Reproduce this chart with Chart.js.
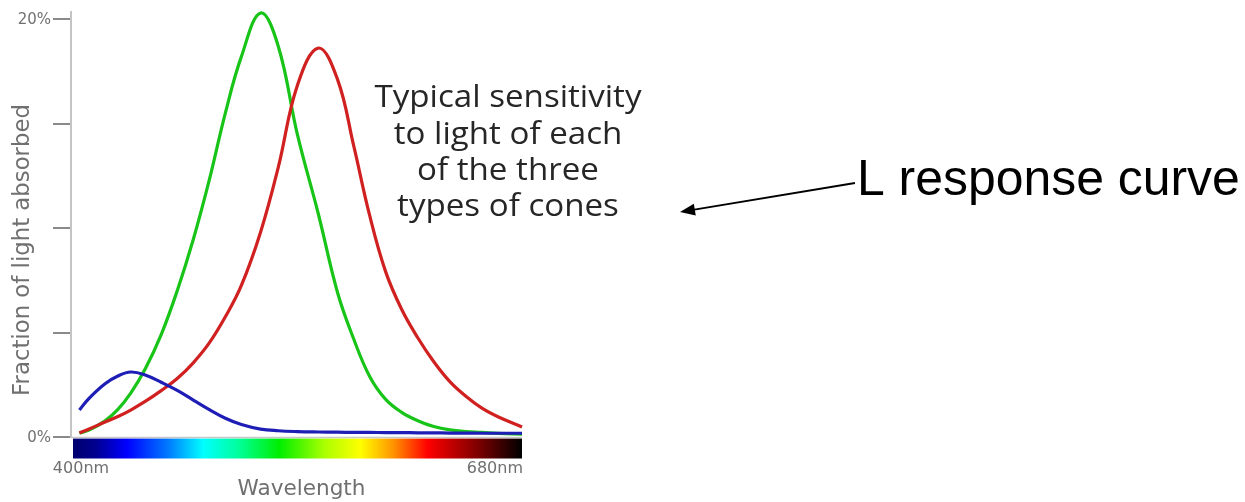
<!DOCTYPE html>
<html>
<head>
<meta charset="utf-8">
<script src="https://cdn.jsdelivr.net/npm/chart.js@4/dist/chart.umd.min.js"></script>
<style>
  html, body { margin: 0; padding: 0; background: #ffffff; }
  #wrap { width: 1245px; height: 502px; }
</style>
</head>
<body>
<div id="wrap"><canvas id="c" width="1245" height="502"></canvas></div>
<script>
// ---- data ----
const wavelengths = [404, 410, 420, 428, 436, 445, 455, 465, 475, 485, 495, 505, 517, 528, 540, 553, 565, 575, 585, 595, 605, 615, 625, 635, 645, 655, 665, 680];
const sCone = [1.29, 1.85, 2.55, 2.92, 3.11, 2.97, 2.62, 2.23, 1.77, 1.31, 0.90, 0.60, 0.38, 0.30, 0.26, 0.24, 0.23, 0.22, 0.22, 0.21, 0.21, 0.20, 0.20, 0.19, 0.19, 0.18, 0.18, 0.18];
const mCone = [0.19, 0.33, 0.77, 1.32, 2.10, 3.25, 4.90, 7.00, 9.45, 12.30, 15.50, 18.20, 20.29, 18.70, 14.45, 10.67, 6.90, 4.70, 2.90, 1.80, 1.18, 0.78, 0.50, 0.34, 0.26, 0.22, 0.17, 0.14];
const lCone = [0.19, 0.38, 0.72, 0.98, 1.29, 1.70, 2.22, 2.80, 3.55, 4.50, 5.75, 7.25, 9.81, 12.90, 16.84, 18.61, 17.10, 13.95, 10.60, 7.90, 6.10, 4.75, 3.60, 2.65, 1.95, 1.38, 0.97, 0.48];
const yTickValues = [0, 5, 10, 15, 20];
const yTickLabels = {0: '0%', 20: '20%'};
const xRange = [400, 680];
const xLabels = ['400nm', '680nm'];
const yTitle = 'Fraction of light absorbed';
const xTitle = 'Wavelength';
const noteLines = ['Typical sensitivity', 'to light of each', 'of the three', 'types of cones'];
const calloutText = 'L response curve';

const toPoints = (vals) => wavelengths.map((w, i) => ({x: w, y: vals[i]}));

function fitFont(ctx, text, family, targetWidth, weight) {
  let size = 40;
  ctx.font = (weight || '') + ' ' + size + 'px ' + family;
  const w = ctx.measureText(text).width;
  return size * targetWidth / w;
}

const decor = {
  id: 'decor',
  beforeDatasetsDraw(chart) {
    const ctx = chart.ctx;
    const a = chart.chartArea;
    const xs = chart.scales.x, ys = chart.scales.y;
    const x0 = xs.getPixelForValue(xRange[0]);
    const x1 = xs.getPixelForValue(xRange[1]);
    const yb = ys.getPixelForValue(0);
    ctx.save();
    // spectrum bar
    const g = ctx.createLinearGradient(x0, 0, x1, 0);
    g.addColorStop(0.00, '#00006e');
    g.addColorStop(0.05, '#000090');
    g.addColorStop(0.12, '#0000ff');
    g.addColorStop(0.21, '#0077ff');
    g.addColorStop(0.29, '#00ffff');
    g.addColorStop(0.37, '#00ff99');
    g.addColorStop(0.46, '#00ee00');
    g.addColorStop(0.56, '#aaff00');
    g.addColorStop(0.64, '#ffff00');
    g.addColorStop(0.71, '#ff9900');
    g.addColorStop(0.79, '#ff0000');
    g.addColorStop(0.90, '#800000');
    g.addColorStop(1.00, '#000000');
    ctx.fillStyle = g;
    ctx.fillRect(x0, yb + 1.5, x1 - x0, 20);
    // baseline
    ctx.strokeStyle = '#c8c8c8';
    ctx.lineWidth = 1.5;
    ctx.beginPath();
    ctx.moveTo(a.left - 2, yb + 0.5);
    ctx.lineTo(x1, yb + 0.5);
    ctx.stroke();
    // y axis line
    ctx.strokeStyle = '#c4c4c4';
    ctx.lineWidth = 2;
    ctx.beginPath();
    ctx.moveTo(a.left - 2, 11);
    ctx.lineTo(a.left - 2, yb + 1);
    ctx.stroke();
    // y ticks
    ctx.strokeStyle = '#8a8a8a';
    ctx.lineWidth = 2;
    ctx.font = '15px "DejaVu Sans"';
    ctx.fillStyle = '#707070';
    ctx.textAlign = 'right';
    ctx.textBaseline = 'middle';
    yTickValues.forEach(v => {
      const y = Math.round(ys.getPixelForValue(v));
      ctx.beginPath();
      ctx.moveTo(a.left - 20, y);
      ctx.lineTo(a.left - 3, y);
      ctx.stroke();
      if (yTickLabels[v]) ctx.fillText(yTickLabels[v], a.left - 22, y + 1);
    });
    // x labels
    ctx.font = '16px "DejaVu Sans"';
    ctx.textAlign = 'center';
    ctx.fillText(xLabels[0], x0 + 8, 469);
    ctx.textAlign = 'right';
    ctx.fillText(xLabels[1], x1 + 1, 469);
    // x title
    let fs = fitFont(ctx, xTitle, '"DejaVu Sans"', 128);
    ctx.font = fs + 'px "DejaVu Sans"';
    ctx.textAlign = 'center';
    ctx.fillText(xTitle, (x0 + x1) / 2 + 4, 489);
    // y title
    fs = fitFont(ctx, yTitle, '"DejaVu Sans"', 292);
    ctx.font = fs + 'px "DejaVu Sans"';
    ctx.translate(23, (ys.getPixelForValue(0) + ys.getPixelForValue(20)) / 2 + 22);
    ctx.rotate(-Math.PI / 2);
    ctx.textAlign = 'center';
    ctx.fillText(yTitle, 0, 0);
    ctx.restore();
  },
  afterDatasetsDraw(chart) {
    const ctx = chart.ctx;
    ctx.save();
    // note text (condensed to width of the reference)
    ctx.fillStyle = '#262626';
    ctx.textBaseline = 'alphabetic';
    ctx.textAlign = 'center';
    const fam = '"Open Sans"';
    const size = 31;
    ctx.font = size + 'px ' + fam;
    const w0 = ctx.measureText(noteLines[0]).width;
    const sx = 267 / w0;
    const baselines = [107, 143.5, 180, 216];
    noteLines.forEach((t, i) => {
      ctx.save();
      ctx.translate(508, baselines[i]);
      ctx.scale(sx, 1);
      ctx.fillText(t, 0, 0);
      ctx.restore();
    });
    // callout text
    ctx.fillStyle = '#000000';
    ctx.textAlign = 'left';
    const cs = fitFont(ctx, calloutText, '"Liberation Sans"', 383);
    ctx.font = cs + 'px "Liberation Sans"';
    ctx.fillText(calloutText, 857, 195);
    // arrow
    const ax0 = 855, ay0 = 183, ax1 = 680, ay1 = 212;
    const ang = Math.atan2(ay1 - ay0, ax1 - ax0);
    ctx.strokeStyle = '#000000';
    ctx.lineWidth = 2;
    ctx.beginPath();
    ctx.moveTo(ax0, ay0);
    ctx.lineTo(ax1 - 10 * Math.cos(ang), ay1 - 10 * Math.sin(ang));
    ctx.stroke();
    ctx.beginPath();
    const L = 15, W = 6;
    const bx = ax1 - L * Math.cos(ang), by = ay1 - L * Math.sin(ang);
    ctx.moveTo(ax1, ay1);
    ctx.lineTo(bx + W * Math.sin(ang), by - W * Math.cos(ang));
    ctx.lineTo(bx - W * Math.sin(ang), by + W * Math.cos(ang));
    ctx.closePath();
    ctx.fillStyle = '#000000';
    ctx.fill();
    ctx.restore();
  }
};

new Chart(document.getElementById('c'), {
  type: 'line',
  data: {
    datasets: [
      { label: 'S', data: toPoints(sCone), borderColor: '#1e1eb6' },
      { label: 'L', data: toPoints(lCone), borderColor: '#d02020' },
      { label: 'M', data: toPoints(mCone), borderColor: '#18c418' }
    ]
  },
  options: {
    responsive: false,
    devicePixelRatio: 1,
    animation: false,
    layout: { padding: { left: 73, right: 1245 - 522, top: 19, bottom: 502 - 437 } },
    elements: {
      point: { radius: 0 },
      line: { borderWidth: 3.2, tension: 0.4, fill: false }
    },
    datasets: { line: { clip: false } },
    plugins: { legend: { display: false }, tooltip: { enabled: false } },
    scales: {
      x: { type: 'linear', min: xRange[0], max: xRange[1], display: false },
      y: { type: 'linear', min: 0, max: 20, display: false }
    }
  },
  plugins: [decor]
});
</script>
</body>
</html>
